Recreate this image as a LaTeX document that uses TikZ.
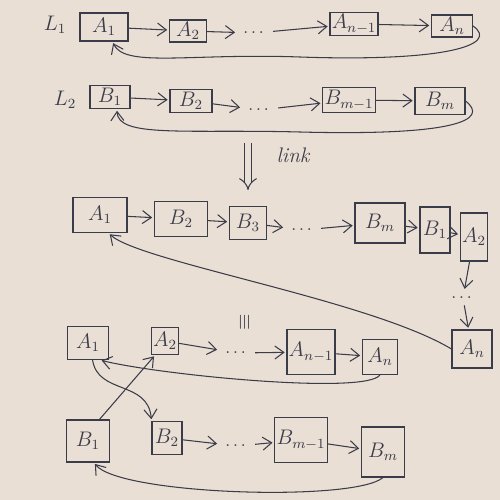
\documentclass[tikz,border=0pt]{standalone}
\usepackage{amsmath,amssymb}
\usetikzlibrary{arrows.meta}

\definecolor{paper}{RGB}{234,223,212}
\definecolor{ink}{RGB}{58,60,74}

\begin{document}
\begin{tikzpicture}[x=0.2mm, y=-0.2mm, ink, line width=0.6pt,
	cell/.style={draw, rectangle, inner sep=1pt, font=\large},
	ptr/.style={-{Straight Barb[length=1.8mm, width=2.6mm]}, shorten >=1pt}]
	\fill[paper] (0,0) rectangle (500,500);
	\useasboundingbox (0,0) rectangle (500,500);
	% the two lists
	\node[font=\large] (l1) at (55,25) {$L_1$};
	\node[font=\large] (l2) at (65,100) {$L_2$};
	\foreach \n/\x/\y/\w/\h/\t in {a1/104/27/48/28/{$A_1$}, a2/188/31/37/22/{$A_2$}, an1/354/24/48/23/{$A_{n-1}$}, an/452/26/41/22/{$A_n$},
		b1/110/97/40/23/{$B_1$}, b2/191/101/42/23/{$B_2$}, bm1/349/100/40/25/{$B_{m-1}$}, bm/440/101/50/27/{$B_m$}}
		{\node[cell, minimum width=\w*0.2mm, minimum height=\h*0.2mm] (\n) at (\x,\y) {\t};}
	\node (d1) at (255,33) {$\dots$};
	\node (d2) at (260,110) {$\dots$};
	\foreach \s/\e in {a1/a2, a2/d1, d1/an1, an1/an, b1/b2, b2/d2, d2/bm1, bm1/bm}
		\draw[ptr] (\s) -- (\e);
	\draw[ptr] (an.east) .. controls (500,45) and (445,62) .. (300,57) .. controls (190,53) and (125,68) .. (a1.-60);
	\draw[ptr] (bm.east) .. controls (490,120) and (455,136) .. (300,132) .. controls (185,129) and (118,138) .. (b1.-60);
	% link step
	\coordinate (lt) at (248,143);
	\coordinate (lb) at (248,190);
	\draw[double=paper, double distance=3pt, -{Implies}] (lt) -- (lb);
	\node[font=\large\itshape] (lk) at (293,155) {link};
	% linked list
	\foreach \n/\x/\y/\w/\h/\t in {ja1/100/215/54/35/{$A_1$}, jb2/181/219/53/35/{$B_2$}, jb3/248/223/37/33/{$B_3$}, jbm/380/223/50/40/{$B_m$},
		jb1/435/230/30/46/{$B_1$}, ja2/474/237/25/48/{$A_2$}, jan/472/349/40/38/{$A_n$}}
		{\node[cell, minimum width=\w*0.2mm, minimum height=\h*0.2mm] (\n) at (\x,\y) {\t};}
	\node (d3) at (303,230) {$\dots$};
	\node (d4) at (463,298) {$\dots$};
	\foreach \s/\e in {ja1/jb2, jb2/jb3, jb3/d3, d3/jbm, jbm/jb1, jb1/ja2, ja2/d4, d4/jan}
		\draw[ptr] (\s) -- (\e);
	\draw[ptr] (jan.west) .. controls (370,300) and (140,262) .. (ja1.-65);
	% same thing, drawn as two lists
	\node[rotate=90, font=\large] (eq) at (245,322) {$\equiv$};
	\foreach \n/\x/\y/\w/\h/\t in {ea1/88/343/41/33/{$A_1$}, ea2/165/341/26/27/{$A_2$}, ean1/311/352/48/45/{$A_{n-1}$}, ean/380/357/35/35/{$A_n$},
		eb1/88/441/43/42/{$B_1$}, eb2/167/438/30/33/{$B_2$}, ebm1/301/440/48/45/{$B_{m-1}$}, ebm/383/452/43/50/{$B_m$}}
		{\node[cell, minimum width=\w*0.2mm, minimum height=\h*0.2mm] (\n) at (\x,\y) {\t};}
	\node (d5) at (237,353) {$\dots$};
	\node (d6) at (237,446) {$\dots$};
	\foreach \s/\e in {ea2/d5, d5/ean1, ean1/ean, eb2/d6, d6/ebm1, ebm1/ebm}
		\draw[ptr] (\s) -- (\e);
	\draw[ptr] (ean.south) .. controls (365,395) and (160,375) .. (ea1.-55);
	\draw[ptr] (ebm.south) .. controls (355,502) and (120,495) .. (eb1.-75);
	\draw[ptr] (eb1.62) -- (ea2.-125);
	\draw[ptr] (ea1.-75) .. controls (98,395) and (148,380) .. (eb2.north west);
\end{tikzpicture}
\end{document}
